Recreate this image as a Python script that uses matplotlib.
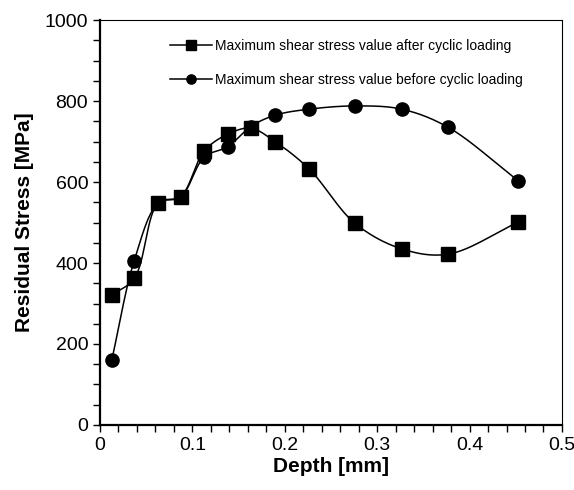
import numpy as np
import matplotlib.pyplot as plt
from matplotlib.ticker import MultipleLocator

plt.rcParams['font.family'] = ['Liberation Sans', 'DejaVu Sans']

depth = [0.0127, 0.0371, 0.0631, 0.0873, 0.1129, 0.1382, 0.1631, 0.1894,
         0.2265, 0.2760, 0.3265, 0.3770, 0.4527]
after = [321, 362, 549, 564, 677, 718, 733, 700, 632, 498, 435, 422, 501]
before = [160, 406, 548, 563, 662, 687, 737, 765, 780, 788, 780, 735, 603]

label_after = "Maximum shear stress value after cyclic loading"
label_before = "Maximum shear stress value before cyclic loading"


def smooth(x, y, n=30):
    # centripetal catmull-rom, done in screen-like units
    sx, sy = 462 / 0.5, 405 / 1000.0
    P = np.column_stack([np.asarray(x) * sx, np.asarray(y) * sy])
    P = np.vstack([2 * P[0] - P[1], P, 2 * P[-1] - P[-2]])
    out = []
    for i in range(1, len(P) - 2):
        p0, p1, p2, p3 = P[i - 1], P[i], P[i + 1], P[i + 2]
        t0 = 0.0
        t1 = t0 + np.linalg.norm(p1 - p0) ** 0.5
        t2 = t1 + np.linalg.norm(p2 - p1) ** 0.5
        t3 = t2 + np.linalg.norm(p3 - p2) ** 0.5
        t = np.linspace(t1, t2, n)[:, None]
        a1 = (t1 - t) / (t1 - t0) * p0 + (t - t0) / (t1 - t0) * p1
        a2 = (t2 - t) / (t2 - t1) * p1 + (t - t1) / (t2 - t1) * p2
        a3 = (t3 - t) / (t3 - t2) * p2 + (t - t2) / (t3 - t2) * p3
        b1 = (t2 - t) / (t2 - t0) * a1 + (t - t0) / (t2 - t0) * a2
        b2 = (t3 - t) / (t3 - t1) * a2 + (t - t1) / (t3 - t1) * a3
        c = (t2 - t) / (t2 - t1) * b1 + (t - t1) / (t2 - t1) * b2
        out.append(c)
    out = np.vstack(out)
    return out[:, 0] / sx, out[:, 1] / sy


fig = plt.figure(figsize=(5.74, 4.90), dpi=100)
ax = fig.add_axes([0.1742, 0.1327, 0.8048, 0.8263])

for yv, mk, ms, lab in [(after, 's', 10, label_after), (before, 'o', 9.5, label_before)]:
    xs, ys = smooth(depth, yv)
    ax.plot(xs, ys, color='black', lw=1.1)
    ax.plot(depth, yv, linestyle='none', marker=mk, ms=ms, color='black')
    ax.plot([], [], color='black', lw=1.1, marker=mk, ms=ms * 0.7, label=lab)

ax.set_xlim(0, 0.5)
ax.set_ylim(0, 1000)
ax.set_xticks(np.arange(0, 0.51, 0.1))
ax.set_xticklabels(['0', '0.1', '0.2', '0.3', '0.4', '0.5'])
ax.xaxis.set_minor_locator(MultipleLocator(0.02))
ax.yaxis.set_major_locator(MultipleLocator(200))
ax.yaxis.set_minor_locator(MultipleLocator(50))
ax.tick_params(which='both', direction='out', length=5, width=1, labelsize=14)
ax.tick_params(top=False, right=False)
for side in ['left', 'bottom']:
    ax.spines[side].set_linewidth(1.6)
for side in ['top', 'right']:
    ax.spines[side].set_linewidth(0.8)

ax.set_xlabel('Depth [mm]', fontsize=15, fontweight='bold', labelpad=2)
ax.set_ylabel('Residual Stress [MPa]', fontsize=15, fontweight='bold', labelpad=8)

ax.legend(loc='upper left', bbox_to_anchor=(0.125, 0.985), frameon=False,
          fontsize=10, handlelength=3.0, handletextpad=0.2, labelspacing=1.45)

fig.savefig('out.png', dpi=100)
